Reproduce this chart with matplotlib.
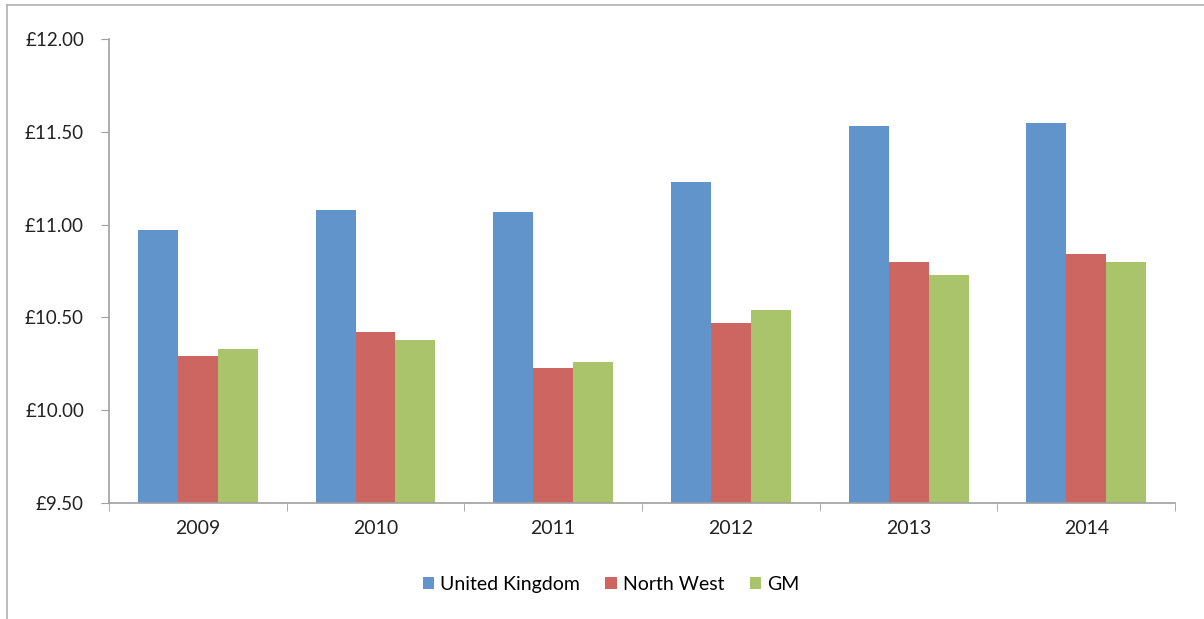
import matplotlib as mpl
import matplotlib.pyplot as plt
import numpy as np
from matplotlib.lines import Line2D

mpl.rcParams["font.family"] = ["Lato", "DejaVu Sans"]

years = ["2009", "2010", "2011", "2012", "2013", "2014"]
uk = [10.97, 11.08, 11.07, 11.23, 11.53, 11.55]
north_west = [10.29, 10.42, 10.23, 10.47, 10.80, 10.84]
gm = [10.33, 10.38, 10.26, 10.54, 10.73, 10.80]
series_names = ["United Kingdom", "North West", "GM"]
colors = ["#6194cb", "#cd6560", "#aac46c"]

fig = plt.figure(figsize=(12.04, 6.19), dpi=100)
ax = fig.add_axes([0.0905, 0.1874, 0.8855, 0.7496])

x = np.arange(len(years))
w = 0.225
for i, (vals, name, c) in enumerate(zip([uk, north_west, gm], series_names, colors)):
    ax.bar(x + (i - 1) * w, np.array(vals) - 9.5, w, bottom=9.5, color=c, label=name)

ax.set_xlim(-0.5, len(years) - 0.5)
ax.set_ylim(9.5, 12.0)
ax.set_yticks(np.arange(9.5, 12.01, 0.5))
ax.set_yticklabels([f"£{v:.2f}" for v in np.arange(9.5, 12.01, 0.5)])
ax.set_xticks(x)
ax.set_xticklabels(years)
ax.set_xticks(np.arange(-0.5, len(years)), minor=True)
ax.tick_params(axis="x", which="major", length=0, pad=12)
ax.tick_params(axis="x", which="minor", length=6, color="#a0a0a0", direction="out")
ax.tick_params(axis="y", length=6, color="#a0a0a0", pad=12)
ax.tick_params(labelsize=14, labelcolor="#222222")
ax.tick_params(axis="y", labelsize=13.5)

for s in ["top", "right"]:
    ax.spines[s].set_visible(False)
for s in ["left", "bottom"]:
    ax.spines[s].set_color("#a0a0a0")
    ax.spines[s].set_linewidth(1.2)

ax.legend(loc="upper center", bbox_to_anchor=(0.471, -0.12), ncol=3, frameon=False,
          fontsize=14, handlelength=0.6, handleheight=0.6, handletextpad=0.3,
          columnspacing=1.3)

# chart border (top and left edges visible)
fig.add_artist(Line2D([0.006, 0.006], [0, 0.992], transform=fig.transFigure, color="#b0b0b0", lw=1.2))
fig.add_artist(Line2D([0.006, 1], [0.992, 0.992], transform=fig.transFigure, color="#b0b0b0", lw=1.2))

fig.savefig("out.png", dpi=100)
